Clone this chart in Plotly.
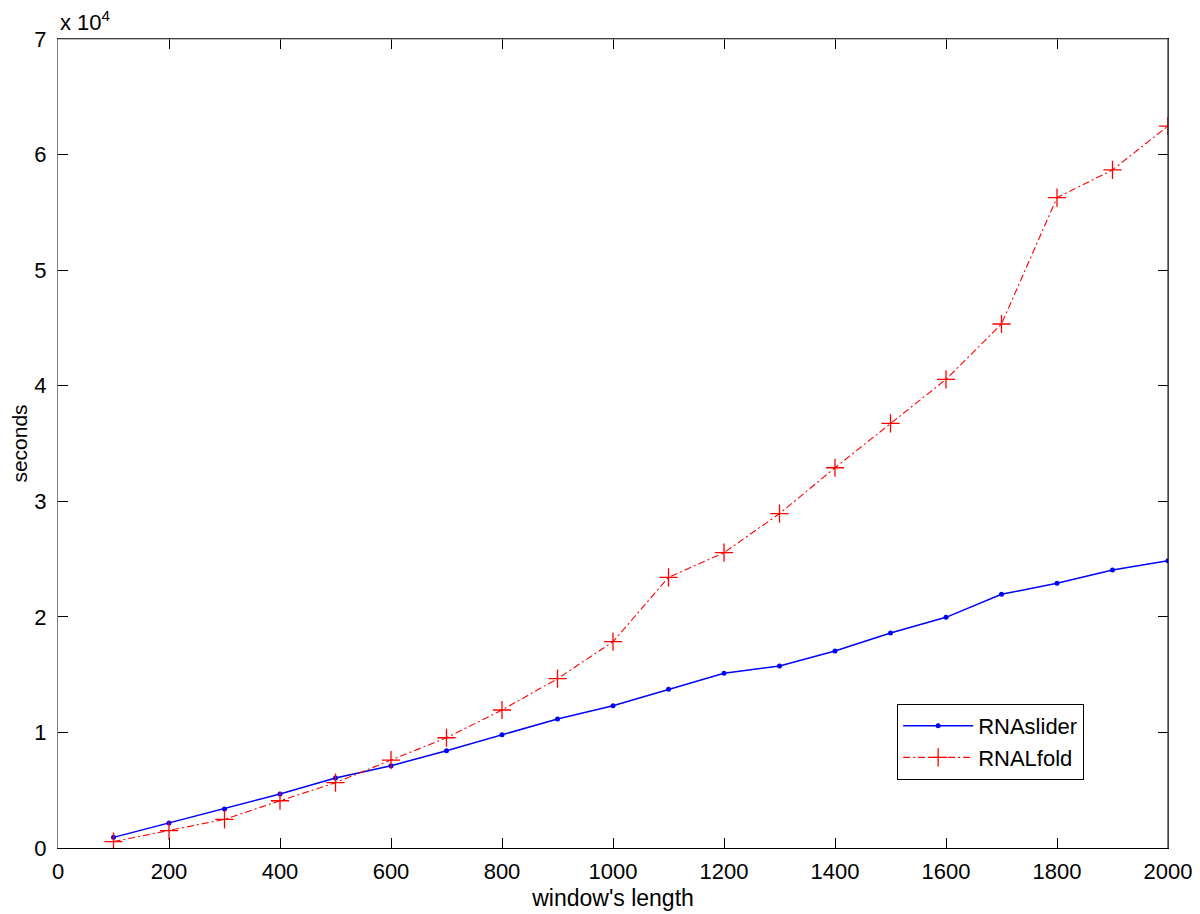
import plotly.graph_objects as go

window_length = [100, 200, 300, 400, 500, 600, 700, 800, 900, 1000,
                 1100, 1200, 1300, 1400, 1500, 1600, 1700, 1800, 1900, 2000]
rnaslider = [920, 2160, 3370, 4670, 6060, 7120, 8420, 9800, 11160, 12310,
             13730, 15120, 15750, 17050, 18600, 19960, 21950, 22900, 24050, 24860]
rnalfold = [550, 1500, 2480, 4090, 5650, 7610, 9540, 11940, 14650, 17850,
            23420, 25550, 28930, 32900, 36740, 40550, 45340, 56270, 58670, 62470]

x_ticks = [0, 200, 400, 600, 800, 1000, 1200, 1400, 1600, 1800, 2000]
y_ticks = [0, 10000, 20000, 30000, 40000, 50000, 60000, 70000]
y_ticktext = ["0", "1", "2", "3", "4", "5", "6", "7"]

FONT = "Liberation Sans, Arial, sans-serif"

fig = go.Figure()
fig.add_trace(go.Scatter(
    x=window_length, y=rnaslider, name="RNAslider", mode="lines+markers",
    line=dict(color="#0000ff", width=1.5),
    marker=dict(symbol="circle", size=5, color="#0000ff"),
))
fig.add_trace(go.Scatter(
    x=window_length, y=rnalfold, name="RNALfold", mode="lines+markers",
    line=dict(color="#ff0000", width=1.1, dash="7px,3px,2px,3px"),
    marker=dict(symbol="cross-thin", size=13, color="#ff0000",
                line=dict(color="#ff0000", width=1.3)),
))

# the page body adds an 8px margin, so the figure is 8px smaller and shifted
fig.update_layout(
    width=1192, height=906,
    margin=dict(l=50, r=32, t=31, b=66),
    paper_bgcolor="white", plot_bgcolor="white",
    font=dict(family=FONT, size=22, color="black"),
    showlegend=True,
    legend=dict(
        x=0.756, y=0.178, xanchor="left", yanchor="top",
        bordercolor="black", borderwidth=1, bgcolor="white",
        font=dict(family=FONT, size=22), itemwidth=70,
        tracegroupgap=0,
    ),
    xaxis=dict(
        range=[0, 2000], tickvals=x_ticks, ticks="inside", ticklen=10,
        tickcolor="black", showline=True, linecolor="black", linewidth=1,
        mirror="ticks", showgrid=False, zeroline=False, automargin=False,
        title=dict(text="window's length", font=dict(size=23), standoff=6),
        tickfont=dict(size=22), ticklabelstandoff=4,
    ),
    yaxis=dict(
        range=[0, 70000], tickvals=y_ticks, ticktext=y_ticktext,
        ticks="inside", ticklen=10, tickcolor="black", showline=True,
        linecolor="#808080", linewidth=1, mirror="ticks", showgrid=False,
        zeroline=False, automargin=False,
        title=dict(text="seconds", font=dict(size=21), standoff=4),
        tickfont=dict(size=22), ticklabelstandoff=6,
    ),
    shapes=[
        dict(type="line", xref="paper", yref="paper", x0=0, x1=1, y0=1, y1=1,
             line=dict(color="#808080", width=1)),
        dict(type="line", xref="paper", yref="paper", x0=1, x1=1, y0=0, y1=1,
             line=dict(color="black", width=1)),
    ],
    annotations=[
        dict(text="x 10<sup>4</sup>", xref="paper", yref="paper", x=0.0, y=1.0,
             xanchor="left", yanchor="bottom", showarrow=False,
             font=dict(family=FONT, size=22), yshift=2),
    ],
)

fig.write_html("out.html")
